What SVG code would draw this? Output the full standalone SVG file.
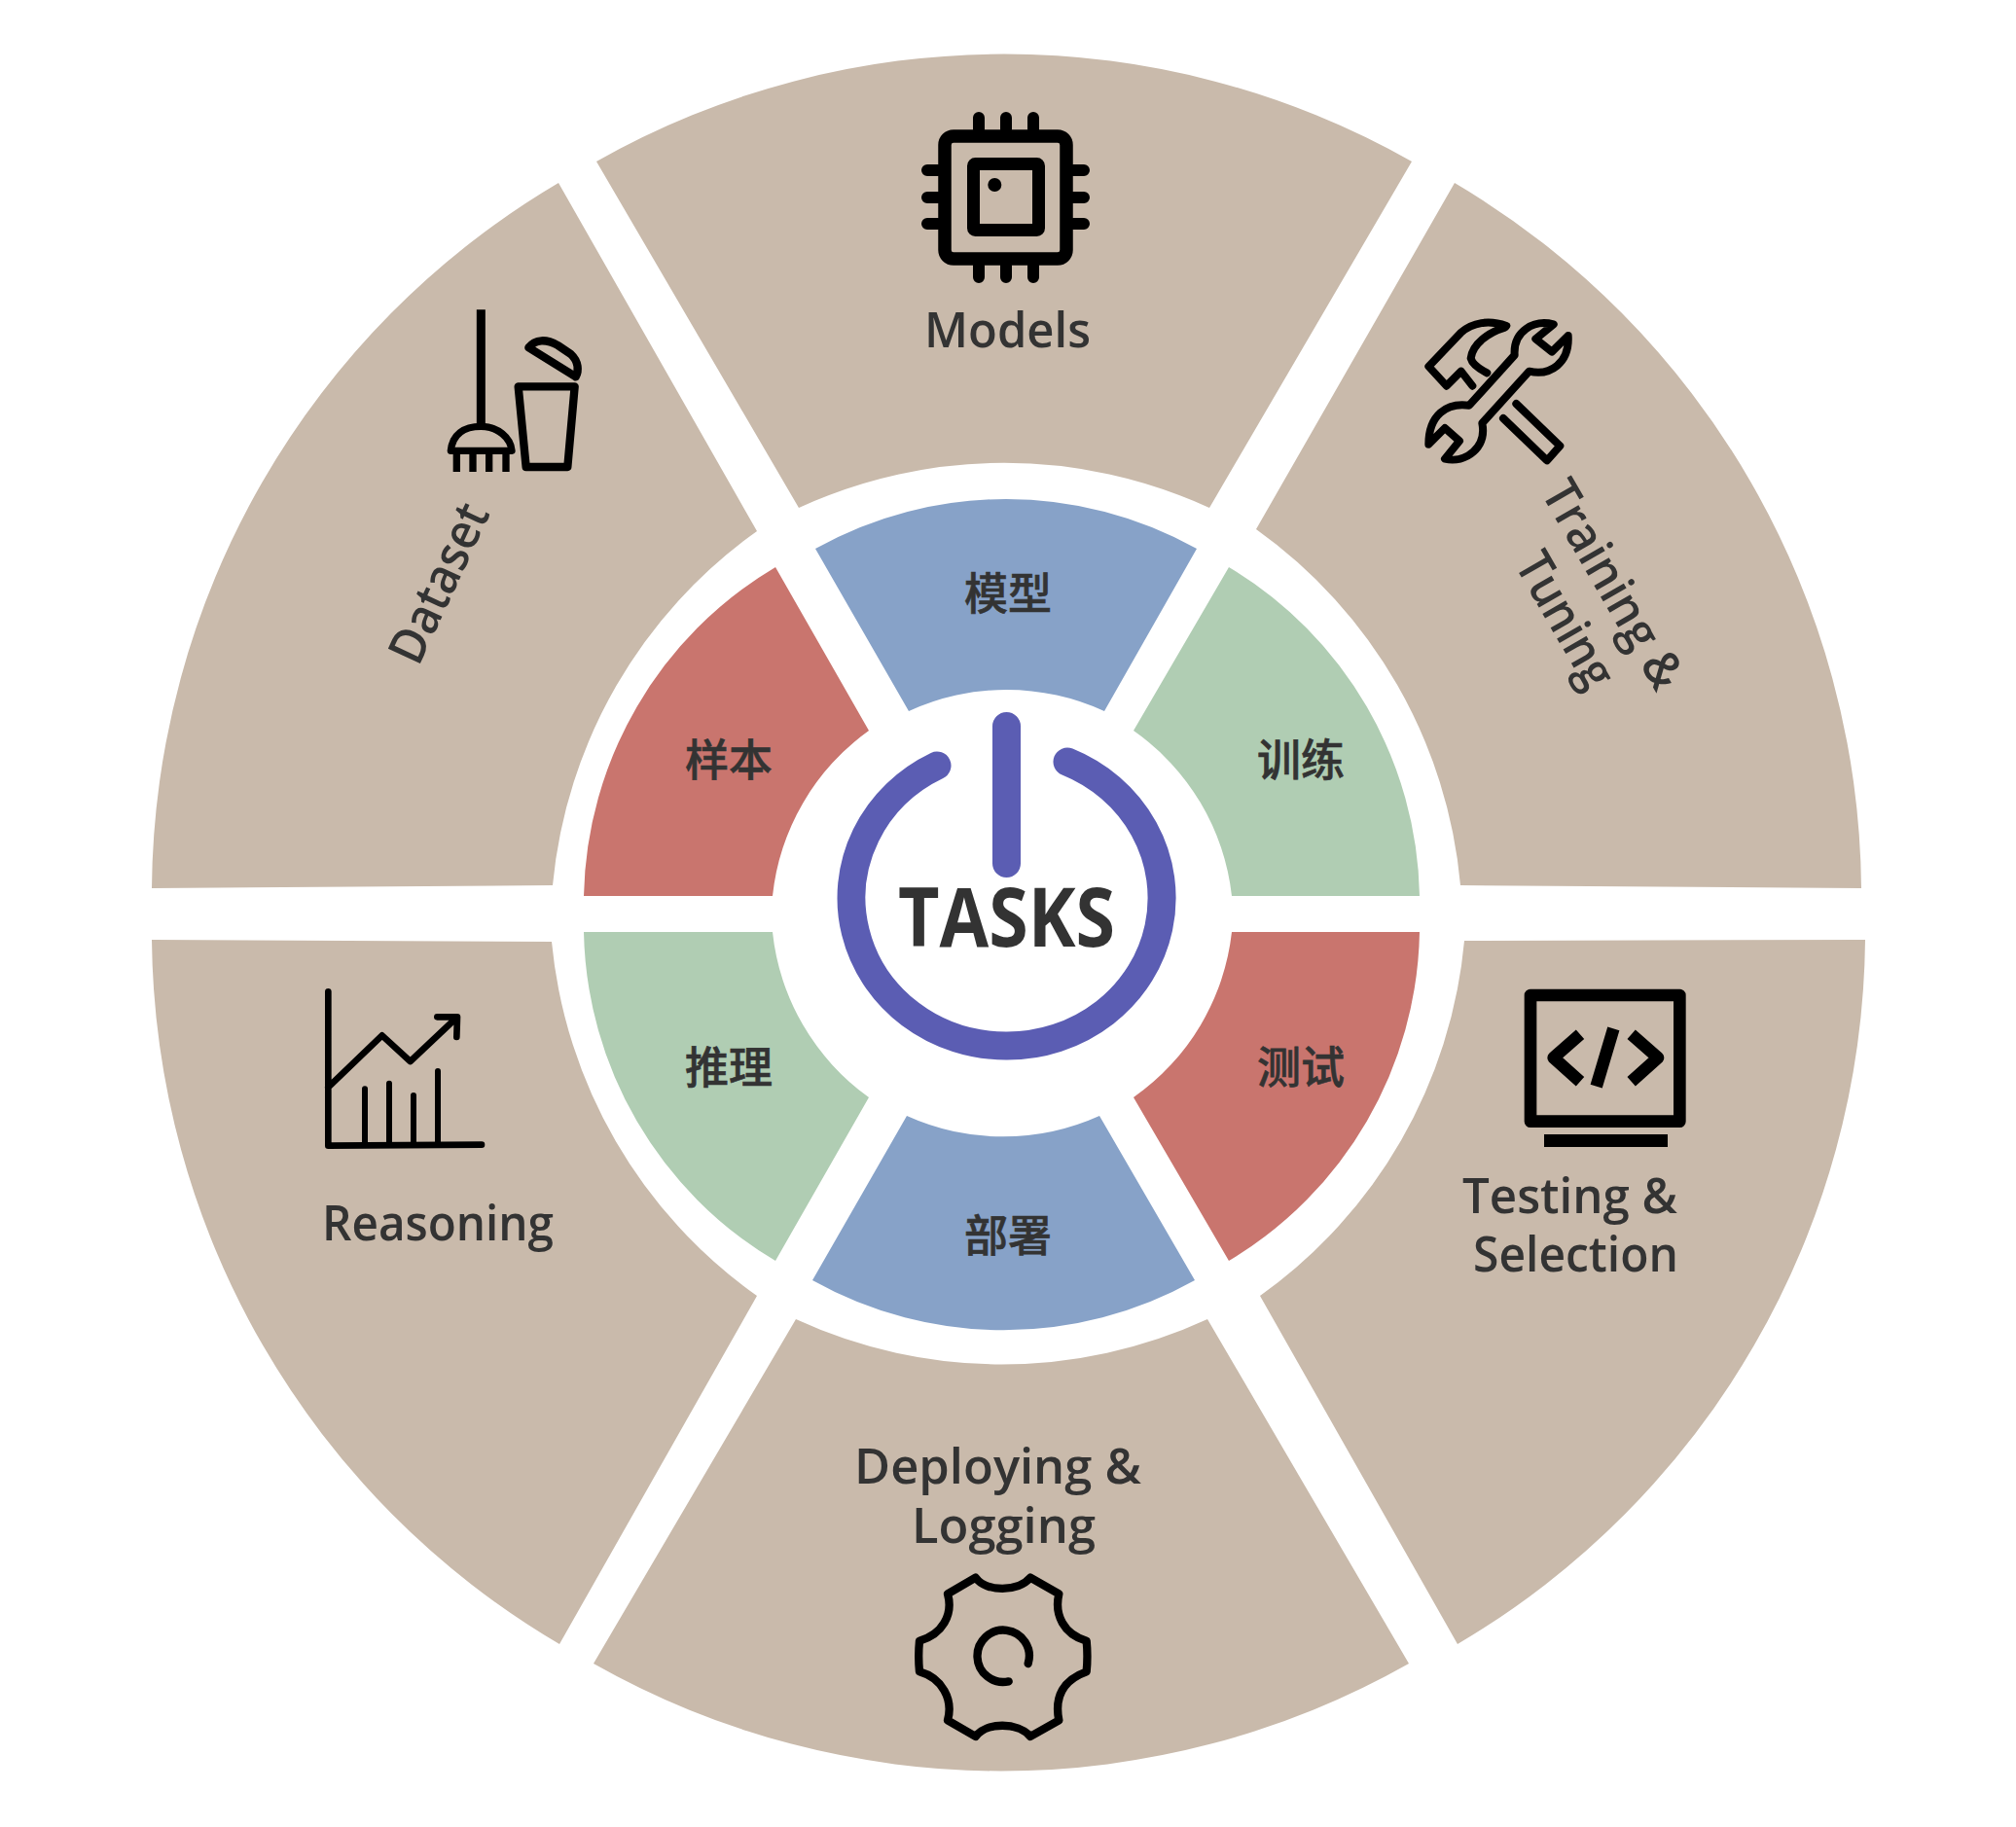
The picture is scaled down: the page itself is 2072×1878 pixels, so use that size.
<svg xmlns="http://www.w3.org/2000/svg" width="2072" height="1878" viewBox="0 0 2072 1878">
<style>
.o{fill:#c9baab}
.b{fill:#87a2c8}.g{fill:#b0cdb3}.r{fill:#c9756e}
.t{font-family:"Open Sans","Noto Sans",sans-serif;font-weight:600;font-size:51px;fill:#333}
.c{font-family:"Noto Sans CJK SC",sans-serif;font-weight:500;font-size:45px;fill:#333;stroke:#333;stroke-width:.6;text-anchor:middle}
.i{fill:none;stroke:#000;stroke-linejoin:round}
</style>
<rect width="2072" height="1878" fill="#fff"/>
<g id="models">
<path class="o" d="M613,166 A850,850 0 0 1 1451,166 L1243,522 A505,505 0 0 0 821,522Z"/>
<g class="i">
<rect x="971" y="140" width="125" height="126" rx="9" stroke-width="13.5"/>
<rect x="1000.500" y="168.500" width="67" height="68" rx="2" stroke-width="13"/>
<path stroke-width="12" stroke-linecap="round" d="M1006,121V133M1034,121V133M1062,121V133M1006,273V285M1034,273V285M1062,273V285M953,175H964M953,203H964M953,230H964M1103,175H1114M1103,203H1114M1103,230H1114"/>
</g>
<circle cx="1022.300" cy="190" r="7"/>
<text class="t" x="950" y="357" textLength="171" lengthAdjust="spacingAndGlyphs">Models</text>
</g>
<g id="training">
<path class="o" d="M1495,188 A850,850 0 0 1 1913,913 L1501,910 A505,505 0 0 0 1291,544Z"/>
<g class="i" transform="translate(1430,300) scale(.33333)" stroke-width="24" stroke-linecap="round">
<path d="M355,105C300,85 250,95 215,125L115,230L170,290L215,245L250,290"/>
<path d="M350,110C300,125 250,160 245,205C250,225 275,240 295,250"/>
<path d="M385,345L520,475L480,520L345,390"/>
<path d="M500,100C440,85 375,120 380,195L240,350C170,340 115,380 115,470L165,420L210,460L165,515C230,530 295,480 280,405L425,245C490,260 550,220 545,135L495,185L445,145Z"/>
</g>
<text class="t" transform="translate(1583,506) rotate(60)" textLength="239" lengthAdjust="spacingAndGlyphs">Training &amp;</text>
<text class="t" transform="translate(1556,580) rotate(60)" textLength="152" lengthAdjust="spacingAndGlyphs">Tuning</text>
</g>
<g id="testing">
<path class="o" d="M1917,966 A850,850 0 0 1 1498,1690 L1295,1332 A505,505 0 0 0 1505,967Z"/>
<g class="i" transform="translate(1480,1000) scale(.33333)" stroke-linejoin="miter">
<rect x="279" y="69" width="460" height="389" stroke-width="38"/>
<path stroke-width="38" d="M432,190L350,262L432,335M590,190L672,262L590,335M535,172L482,350"/>
</g>
<rect x="1587" y="1166" width="127" height="13"/>
<text class="t" x="1503" y="1247" textLength="221" lengthAdjust="spacingAndGlyphs">Testing &amp;</text>
<text class="t" x="1514" y="1307" textLength="211" lengthAdjust="spacingAndGlyphs">Selection</text>
</g>
<g id="deploying">
<path class="o" d="M818,1356 A505,505 0 0 0 1241,1356 L1448,1710 A850,850 0 0 1 610,1710Z"/>
<text class="t" x="878" y="1525" textLength="295" lengthAdjust="spacingAndGlyphs">Deploying &amp;</text>
<text class="t" x="937" y="1586" textLength="189" lengthAdjust="spacingAndGlyphs">Logging</text>
<g class="i" transform="translate(860,1460) scale(.33333)" stroke-width="25" stroke-linecap="round">
<path d="M428,485C460,530 560,530 597,485L685,535C670,600 700,660 770,680C773,710 773,745 770,775C700,800 670,850 685,925L597,975C560,930 460,930 428,975L342,925C360,860 325,795 255,775C252,745 252,710 255,680C325,660 360,600 342,535Z"/>
<path d="M590,750A80,80 0 1 0 530,805"/>
</g>
</g>
<g id="reasoning">
<path class="o" d="M156,966 L567,968 A505,505 0 0 0 778,1332 L575,1690 A850,850 0 0 1 156,966Z"/>
<g class="i" transform="translate(310,1001) scale(.33333)" stroke-linecap="round">
<path stroke-width="20" d="M82,55V530L555,527M82,350L248,190L335,270L478,135M418,133H480L478,195"/>
<path stroke-width="18" d="M195,355V525M270,338V525M345,375V525M420,300V525"/>
</g>
<text class="t" x="331" y="1275" textLength="238" lengthAdjust="spacingAndGlyphs">Reasoning</text>
</g>
<g id="dataset">
<path class="o" d="M574,188 L778,546 A505,505 0 0 0 568,910 L156,913 A850,850 0 0 1 574,188Z"/>
<g class="i" transform="translate(380,300) scale(.33333)" stroke-linejoin="miter">
<path stroke-width="27" d="M343,55V410"/>
<path stroke-width="22" d="M250,490C255,440 290,415 343,415C395,415 435,450 438,490ZM268,490V555M318,490V555M368,490V555M420,490V555"/>
<path stroke-width="25" d="M458,292H632L610,540H482Z"/>
<path stroke-width="25" stroke-linejoin="round" d="M490,172C510,145 545,145 580,165L620,192C645,215 645,245 635,262Z"/>
</g>
<text class="t" transform="translate(430,686) rotate(-65)" textLength="175" lengthAdjust="spacingAndGlyphs">Dataset</text>
</g>
<g id="ring">
<g id="mx"><path class="b" d="M838,564 A402,402 0 0 1 1230,564 L1135,731 A240,240 0 0 0 934,731Z"/><text class="c" x="1036" y="627">模型</text></g>
<g id="xl"><path class="g" d="M1263,583 A402,402 0 0 1 1459,921 L1266,921 A240,240 0 0 0 1165,751Z"/><text class="c" x="1337" y="798">训练</text></g>
<g id="cs"><path class="r" d="M1266,958 L1459,958 A402,402 0 0 1 1263,1296 L1165,1128 A240,240 0 0 0 1266,958Z"/><text class="c" x="1337" y="1114">测试</text></g>
<g id="bs"><path class="b" d="M932,1147 A240,240 0 0 0 1130,1147 L1228,1316 A402,402 0 0 1 835,1316Z"/><text class="c" x="1036" y="1287">部署</text></g>
<g id="tl"><path class="g" d="M600,958 L794,958 A240,240 0 0 0 893,1128 L797,1296 A402,402 0 0 1 600,958Z"/><text class="c" x="749" y="1114">推理</text></g>
<g id="yb"><path class="r" d="M797,583 L893,751 A240,240 0 0 0 794,921 L600,921 A402,402 0 0 1 797,583Z"/><text class="c" x="749" y="798">样本</text></g>
</g>
<g id="tasks">
<path fill="none" stroke="#5b5db3" stroke-width="29" stroke-linecap="round" d="M963,787A159,152 0 0 0 1034.500,1075A159,152 0 0 0 1097,783M1034.500,746.500V887.500"/>
<text x="923" y="973" textLength="223" lengthAdjust="spacingAndGlyphs" style="font-family:'Open Sans','Noto Sans',sans-serif;font-weight:700;font-size:84px;fill:#333">TASKS</text>
</g>
</svg>
